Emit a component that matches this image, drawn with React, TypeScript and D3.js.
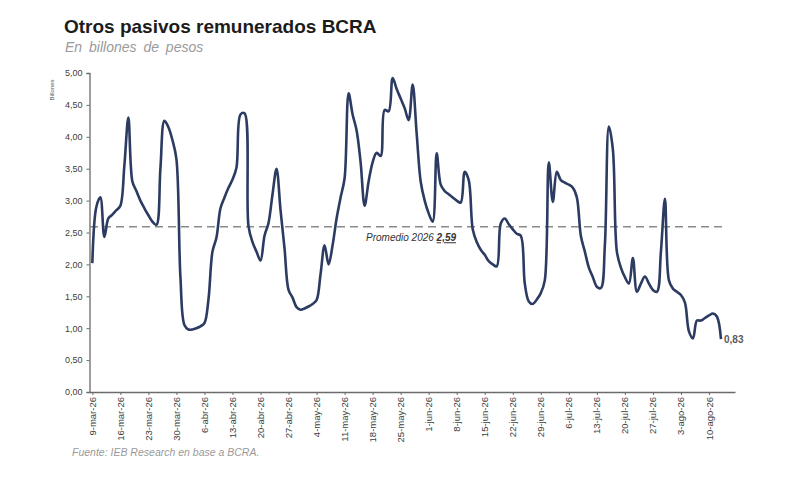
import React, { useEffect, useRef } from 'react';
import * as d3 from 'd3';

// daily readings from 9-mar-26, billones de pesos
const START_DATE = '2026-03-09';
const VALUES = [
  2.02, 2.9, 3.05, 2.43, 2.72, 2.78, 2.85, 2.92, 3.55, 4.3,
  3.3, 3.15, 3.0, 2.88, 2.77, 2.67, 2.62, 3.5, 4.25, 4.15,
  3.95, 3.65, 1.8, 1.05, 0.98, 0.98, 1.0, 1.03, 1.08, 1.45,
  2.2, 2.42, 2.88, 3.05, 3.2, 3.33, 3.52, 4.35, 4.37, 2.6,
  2.35, 2.2, 2.06, 2.45, 2.65, 3.1, 3.5, 2.85, 2.25, 1.6,
  1.48, 1.33, 1.29, 1.31, 1.34, 1.38, 1.44, 1.85, 2.3, 2.0,
  2.3, 2.72, 3.05, 3.35, 4.68, 4.35, 4.1, 3.6, 2.92, 3.3,
  3.6, 3.75, 3.7, 4.42, 4.4, 4.92, 4.75, 4.6, 4.45, 4.26,
  4.82, 4.05, 3.3, 3.0, 2.8, 2.67, 3.74, 3.25, 3.15, 3.1,
  3.05, 3.0, 2.97, 3.45, 3.32, 2.55, 2.35, 2.23, 2.15, 2.05,
  2.0, 1.97, 2.64, 2.72, 2.63, 2.55, 2.48, 2.45, 1.7, 1.42,
  1.38, 1.45, 1.55, 1.75, 3.6, 2.98, 3.45, 3.32, 3.28, 3.25,
  3.2, 3.05, 2.45, 2.2, 1.95, 1.8, 1.65, 1.63, 2.3, 4.16,
  3.8, 2.2, 1.95, 1.8, 1.7, 2.1, 1.57, 1.7, 1.81, 1.7,
  1.6, 1.57, 2.2, 3.03, 1.75, 1.62, 1.57, 1.52, 1.4, 0.95,
  0.84, 1.12, 1.12, 1.16, 1.2, 1.23, 1.18, 0.83,
];

const AVERAGE = 2.59;

const TICK_LABELS = [
  '9-mar-26', '16-mar-26', '23-mar-26', '30-mar-26', '6-abr-26', '13-abr-26',
  '20-abr-26', '27-abr-26', '4-may-26', '11-may-26', '18-may-26', '25-may-26',
  '1-jun-26', '8-jun-26', '15-jun-26', '22-jun-26', '29-jun-26', '6-jul-26',
  '13-jul-26', '20-jul-26', '27-jul-26', '3-ago-26', '10-ago-26',
];

const Y_TICKS = [0, 0.5, 1, 1.5, 2, 2.5, 3, 3.5, 4, 4.5, 5];

const comma = (v: number) => d3.format('.2f')(v).replace('.', ',');

export default function App() {
  const svgRef = useRef<SVGSVGElement>(null);

  useEffect(() => {
    if (!svgRef.current) return;
    const svg = d3.select(svgRef.current);
    svg.selectAll('*').remove();

    const start = d3.timeParse('%Y-%m-%d')(START_DATE)!;
    const data = VALUES.map((v, i) => ({ date: d3.timeDay.offset(start, i), value: v }));
    const tickDates = TICK_LABELS.map((_, i) => d3.timeDay.offset(start, i * 7));

    const x = d3.scaleTime()
      .domain([d3.timeHour.offset(start, -17), d3.timeHour.offset(start, 160 * 24 + 12)])
      .range([89.5, 735]);
    const y = d3.scaleLinear().domain([0, 5]).range([392, 73]);

    const font = 'Liberation Sans, Arial, sans-serif';

    // Title block
    svg.append('text')
      .attr('x', 64).attr('y', 33)
      .attr('font-family', font).attr('font-size', 19).attr('font-weight', 'bold')
      .attr('fill', '#1c1c1c')
      .text('Otros pasivos remunerados BCRA');
    svg.append('text')
      .attr('x', 65).attr('y', 52)
      .attr('font-family', font).attr('font-size', 14).attr('font-style', 'italic')
      .attr('fill', '#9a9a9a')
      .attr('word-spacing', 3)
      .text('En billones de pesos');

    // Y axis
    const yAxis = svg.append('g')
      .attr('transform', 'translate(89.5,0)')
      .call(d3.axisLeft(y).tickValues(Y_TICKS).tickFormat(d => comma(d as number)).tickSize(3).tickPadding(4));
    yAxis.select('.domain').attr('stroke', '#6b6b6b').attr('stroke-width', 1.3);
    yAxis.selectAll('.tick line').attr('stroke', '#6b6b6b');
    yAxis.selectAll('.tick text')
      .attr('font-family', font).attr('font-size', 9).attr('fill', '#3c3c3c');

    svg.append('text')
      .attr('transform', 'translate(54,90) rotate(-90)')
      .attr('text-anchor', 'middle')
      .attr('font-family', font).attr('font-size', 6).attr('fill', '#555')
      .text('Billones');

    // X axis
    const xAxis = svg.append('g')
      .attr('transform', 'translate(0,392)')
      .call(d3.axisBottom(x).tickValues(tickDates).tickFormat((_, i) => TICK_LABELS[i]).tickSize(3).tickSizeOuter(0));
    xAxis.select('.domain').attr('stroke', '#6b6b6b').attr('stroke-width', 1.3);
    xAxis.selectAll('.tick line').attr('stroke', '#6b6b6b');
    xAxis.selectAll('.tick text')
      .attr('font-family', font).attr('font-size', 9.5).attr('fill', '#3c3c3c')
      .attr('text-anchor', 'end')
      .attr('transform', 'rotate(-90)')
      .attr('x', -5).attr('y', 0).attr('dy', '0.32em');

    // Average line
    svg.append('line')
      .attr('x1', 90).attr('x2', 727)
      .attr('y1', y(AVERAGE)).attr('y2', y(AVERAGE))
      .attr('stroke', '#8a8a8a').attr('stroke-width', 1.5)
      .attr('stroke-dasharray', '8,5');

    const avgLabel = svg.append('text')
      .attr('x', 366).attr('y', y(AVERAGE) + 14.5)
      .attr('font-family', font).attr('font-size', 10).attr('font-style', 'italic')
      .attr('fill', '#333');
    avgLabel.append('tspan').text('Promedio 2026 ');
    avgLabel.append('tspan').attr('font-weight', 'bold').attr('text-decoration', 'underline').text(comma(AVERAGE));

    // Series line
    const line = d3.line<{ date: Date; value: number }>()
      .x(d => x(d.date))
      .y(d => y(d.value))
      .curve(d3.curveCatmullRom.alpha(0.5));

    svg.append('path')
      .datum(data)
      .attr('d', line)
      .attr('fill', 'none')
      .attr('stroke', '#2b3b61')
      .attr('stroke-width', 2.6)
      .attr('stroke-linejoin', 'round');

    const last = data[data.length - 1];
    svg.append('text')
      .attr('x', x(last.date) + 3).attr('y', y(last.value) + 4)
      .attr('font-family', font).attr('font-size', 10).attr('font-weight', 'bold')
      .attr('fill', '#5a5a5a')
      .text(comma(last.value));

    // Source
    svg.append('text')
      .attr('x', 72).attr('y', 456)
      .attr('font-family', font).attr('font-size', 10.5).attr('font-style', 'italic')
      .attr('fill', '#9a9a9a')
      .text('Fuente: IEB Research en base a BCRA.');
  }, []);

  return (
    <svg
      ref={svgRef}
      width={800}
      height={492}
      style={{ position: 'absolute', left: 0, top: 0, background: '#fff' }}
    />
  );
}
